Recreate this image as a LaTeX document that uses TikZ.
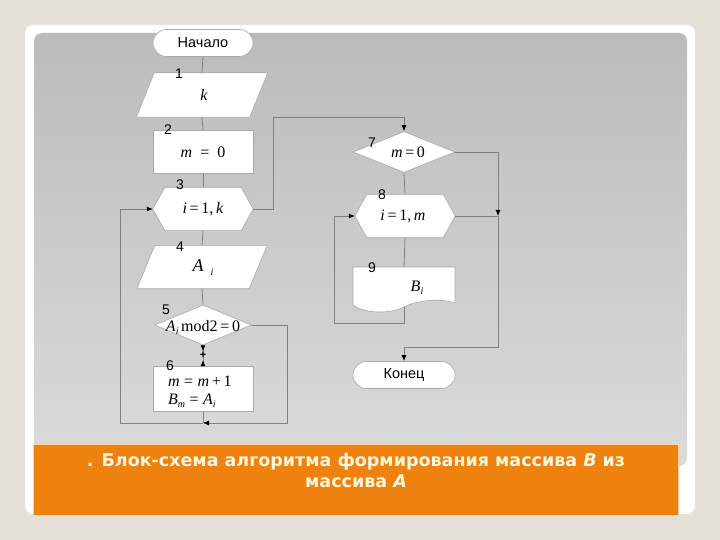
\documentclass[tikz,border=0pt]{standalone}
\usepackage{fontspec}
\setmainfont{Liberation Sans}
\newfontfamily\tnr{Liberation Serif}
\newfontfamily\capfont{DejaVu Sans}
\usetikzlibrary{shapes.geometric,shapes.misc,arrows.meta,calc}
\definecolor{bgc}{HTML}{E4E0D7}
\definecolor{grayTop}{HTML}{BBBBBB}
\definecolor{grayBot}{HTML}{DBDBDB}
\definecolor{orng}{HTML}{EF810E}
\definecolor{cream}{HTML}{FFF6DE}
\definecolor{linec}{HTML}{808080}
\definecolor{shapeline}{HTML}{A8A8A8}
\newcommand\myit[1]{\textit{#1}}
\newcommand\mysub[1]{\raisebox{-3pt}{\fontsize{10}{10}\selectfont\textit{#1}}}
\begin{document}
\begin{tikzpicture}[x=1pt,y=-1pt,
 conn/.style={draw=linec,line width=0.8pt},
 arr/.style={conn,-{Latex[length=6pt,width=5pt,color=black]}},
 blk/.style={draw=shapeline,fill=white,line width=0.6pt,inner sep=0pt},
 anc/.style={inner sep=0pt},
 num/.style={inner sep=0pt,font=\fontsize{14}{14}\selectfont},
 txt/.style={inner sep=0pt,font=\fontsize{14.5}{14.5}\selectfont},
 mth/.style={inner sep=0pt,font=\tnr\fontsize{16}{18}\selectfont},
]
\useasboundingbox (0,0) rectangle (720,540);
% background
\fill[bgc] (0,0) rectangle (720,540);
\fill[black!12, rounded corners=8] (27,27) rectangle (697,516);
\fill[white, rounded corners=8] (25,25) rectangle (695,514);
\shade[top color=grayTop,bottom color=grayBot, rounded corners=8] (34,33) rectangle (687,466);

% ---------- left column ----------
\node[blk, rounded rectangle, minimum width=100, minimum height=27, txt] (start) at (203,43) {Начало};
\node[anc, minimum width=131, minimum height=44] (b1) at (202,95) {};
\draw[blk] ($(b1.south west)$) -- ($(b1.north west)+(18,0)$) -- (b1.north east) -- ($(b1.south east)+(-18,0)$) -- cycle;
\node[mth] (b1t) at (204,95) {\myit{k}};
\node[blk, rectangle, minimum width=100, minimum height=43, mth] (b2) at (203,152) {\myit{m}\ \ =\ \ 0};
\node[anc, minimum width=100, minimum height=43] (b3) at (203,209) {};
\draw[blk] (b3.west) -- ($(b3.north west)+(12,0)$) -- ($(b3.north east)+(-12,0)$) -- (b3.east) -- ($(b3.south east)+(-12,0)$) -- ($(b3.south west)+(12,0)$) -- cycle;
\node[mth] (b3t) at (203,209) {\myit{i}\,=\,1,\,\myit{k}};
\node[anc, minimum width=130, minimum height=43] (b4) at (202,267) {};
\draw[blk] ($(b4.south west)$) -- ($(b4.north west)+(18,0)$) -- (b4.north east) -- ($(b4.south east)+(-18,0)$) -- cycle;
\node[mth, font=\tnr\fontsize{18}{18}\selectfont] (b4t) at (203,268) {\myit{A}\hspace{7pt}\raisebox{-4pt}{\fontsize{10}{10}\selectfont\myit{i}}};
\node[blk, diamond, minimum width=97, minimum height=40] (b5) at (203,325) {};
\node[mth] (b5t) at (203,327) {\myit{A}\mysub{i}\,mod2\,=\,0};
\node[blk, rectangle, minimum width=100, minimum height=45] (b6) at (203,389) {};
\node[mth, anchor=west] (b6a) at (168,381) {\myit{m}\;=\;\myit{m}\,+\,1};
\node[mth, anchor=west] (b6b) at (168,401) {\myit{B}\mysub{m}\;=\;\myit{A}\mysub{i}};

% ---------- right column ----------
\node[blk, diamond, minimum width=102, minimum height=41] (b7) at (404,152) {};
\node[mth] (b7t) at (408,152) {\myit{m}\,=\,0};
\node[anc, minimum width=100, minimum height=43] (b8) at (405,216) {};
\draw[blk] (b8.west) -- ($(b8.north west)+(12,0)$) -- ($(b8.north east)+(-12,0)$) -- (b8.east) -- ($(b8.south east)+(-12,0)$) -- ($(b8.south west)+(12,0)$) -- cycle;
\node[mth] (b8t) at (403,216) {\myit{i}\,=\,1,\,\myit{m}};
\node[anc, minimum width=102, minimum height=36] (b9) at (404,285) {};
\draw[blk] (353,305) -- (353,267) -- (455,267) -- (455,303) .. controls (440,298) and (418,300) .. (404,307) .. controls (390,314) and (365,314) .. (353,305);
\coordinate (b9bot) at (404,307);
\node[mth] (b9t) at (417,288) {\myit{B}\mysub{i}};
\node[blk, rounded rectangle, minimum width=102, minimum height=27, txt] (end) at (404,375) {Конец};

% ---------- connectors ----------
\coordinate (c1) at (273,117);
\coordinate (J1) at (203,423);
\coordinate (k1) at (287,423);
\coordinate (k2) at (120,423);
\coordinate (r1) at (498,216);
\coordinate (e1) at (404,347);
\coordinate (l1) at (404,323);
\coordinate (l2) at (334,323);

\draw[conn] (start.south) -- (b1.north);
\draw[conn] (b1.south) -- (b2.north);
\draw[conn] (b2.south) -- (b3.north);
\draw[conn] (b3.south) -- (b4.north);
\draw[conn] (b4.south) -- (b5.north);
\draw[conn, {Latex[reversed,length=6pt,width=5pt,color=black]}-{Latex[reversed,length=6pt,width=5pt,color=black]}] (b5.south) -- (b6.north);
\node[txt, font=\fontsize{11}{11}\selectfont\bfseries] (plus) at (203,355) {+};
\draw[conn] (b6.south) -- (J1);
\draw[arr] (b5.east) -| (k1) -- (J1);
\draw[arr] (J1) -- (k2) |- (b3.west);
\draw[arr] (b3.east) -| (c1) -| (b7.north);
\draw[conn] (b7.south) -- (b8.north);
\draw[conn] (b8.south) -- (b9.north);
\draw[arr] (b7.east) -| (r1);
\draw[conn] (b8.east) -- (r1);
\draw[arr] (r1) |- (e1) -- (end.north);
\draw[arr] (b9bot) -- (l1) -- (l2) |- (b8.west);

% ---------- numbers ----------
\node[num] (n1) at (179,74) {1};
\node[num] (n2) at (168,130) {2};
\node[num] (n3) at (180,185) {3};
\node[num] (n4) at (180,247) {4};
\node[num] (n5) at (166,310) {5};
\node[num] (n6) at (170,366) {6};
\node[num] (n7) at (372,143) {7};
\node[num] (n8) at (382,195) {8};
\node[num] (n9) at (372,268) {9};

% ---------- caption ----------
\fill[orng] (33,444) rectangle (678,515);
\draw[cream!70!orng, line width=0.8pt] (33,444) rectangle (678,515);
\node[align=center, text=cream, font=\capfont\bfseries\fontsize{17.5}{21}\selectfont, inner sep=0pt] (cap) at (356,470)
  {. Блок-схема алгоритма формирования массива \textit{B} из\\массива \textit{A}};
\end{tikzpicture}
\end{document}
